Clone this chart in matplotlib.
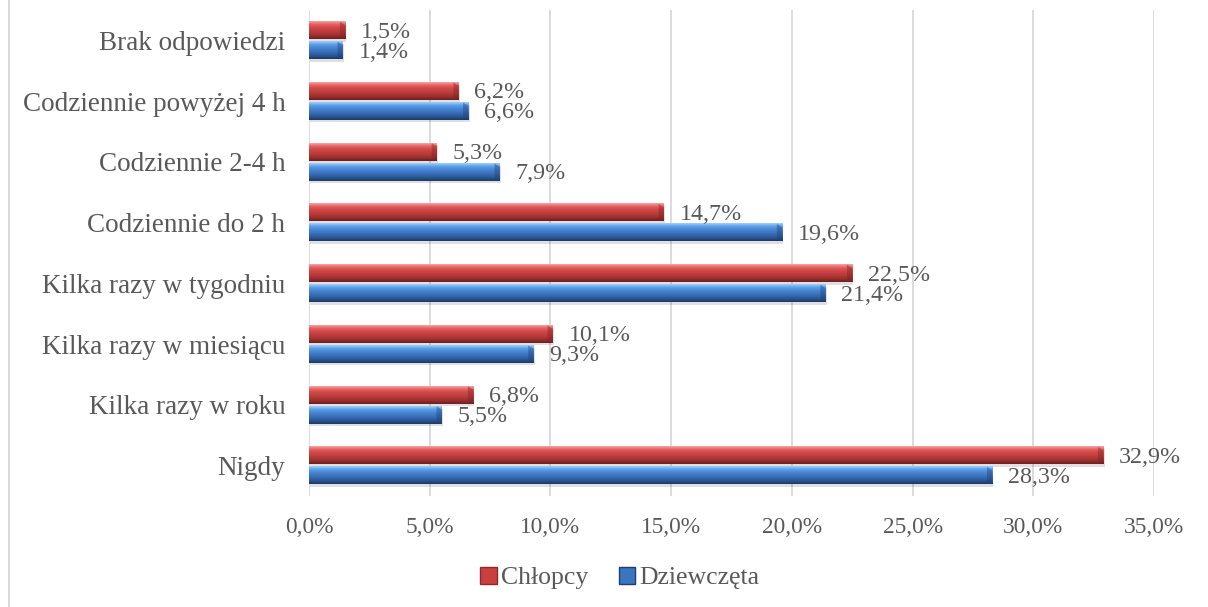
import numpy as np
import matplotlib
matplotlib.use("Agg")
import matplotlib.pyplot as plt
from matplotlib.patches import Patch, Polygon, Rectangle
from matplotlib.lines import Line2D
from matplotlib.colors import to_rgb

# dane
kategorie = ["Nigdy", "Kilka razy w roku", "Kilka razy w miesiącu", "Kilka razy w tygodniu",
             "Codziennie do 2 h", "Codziennie 2-4 h", "Codziennie powyżej 4 h", "Brak odpowiedzi"]
chlopcy = [32.9, 6.8, 10.1, 22.5, 14.7, 5.3, 6.2, 1.5]
dziewczeta = [28.3, 5.5, 9.3, 21.4, 19.6, 7.9, 6.6, 1.4]
ticki = [0, 5, 10, 15, 20, 25, 30, 35]

plt.rcParams['font.family'] = ['Liberation Serif', 'DejaVu Serif']
szary = '#595959'

# gradienty pionowe (od gory do dolu)
grad_red = ['#f6a3a3', '#e86262', '#d24a4a', '#c64040', '#b03838', '#952d2d', '#6e1f1f']
grad_blue = ['#9fd0fb', '#5ea2ea', '#4a88d6', '#3e78c4', '#3468ae', '#29538f', '#1c3a66']


def gradient(kolory, n=40):
    rgb = np.array([to_rgb(c) for c in kolory])
    t = np.linspace(0, 1, n)
    tk = np.linspace(0, 1, len(kolory))
    arr = np.stack([np.interp(t, tk, rgb[:, i]) for i in range(3)], axis=1)
    return arr[:, None, :]


fig = plt.figure(figsize=(12.08, 6.07), dpi=100)
ax = fig.add_axes([0.2558, 0.1829, 0.6995, 0.8006])

h = 0.29
off = 0.165
dx = 0.22
y = np.arange(len(kategorie))

for wartosci, sgn, kol, dark in [(chlopcy, 1, grad_red, '#7a2222'), (dziewczeta, -1, grad_blue, '#1f3f70')]:
    g = gradient(kol)
    for yi, v in zip(y, wartosci):
        yc = yi + sgn * off
        y0, y1 = yc - h / 2, yc + h / 2
        # cien
        ax.add_patch(Rectangle((0.05, y0 - 0.04), v, h, facecolor='#000000', alpha=0.12,
                               edgecolor='none', zorder=2))
        ax.imshow(g, extent=(0, v, y0, y1), aspect='auto', interpolation='bilinear', zorder=3)
        # sfazowany koniec
        ax.add_patch(Polygon([(v - dx, y1), (v, y1 - 0.06), (v, y0), (v - dx, y0 + 0.05)],
                             closed=True, facecolor=dark, alpha=0.4, edgecolor='none', zorder=4))
        ax.text(v + 0.65, yc - 0.03, f"{v:.1f}%".replace('.', ','), ha='left', va='center',
                fontsize=17.3, color=szary, zorder=5)

ax.set_xlim(0, 35)
ax.set_ylim(-0.5, len(kategorie) - 0.5)
ax.set_xticks(ticki)
ax.set_xticklabels([f"{t:.1f}%".replace('.', ',') for t in ticki], fontsize=16.8, color=szary)
ax.set_yticks(y)
ax.set_yticklabels(kategorie, fontsize=19.5, color=szary)
ax.tick_params(axis='both', length=0)
ax.tick_params(axis='x', pad=15)
ax.tick_params(axis='y', pad=17)
ax.grid(axis='x', color='#d9d9d9', linewidth=1.3, zorder=0)
ax.set_axisbelow(True)
for s in ax.spines.values():
    s.set_visible(False)

# ramka z lewej
fig.add_artist(Line2D([9 / 1208, 9 / 1208], [0, 1], color='#d9d9d9', linewidth=1.5))

uchwyty = [Patch(facecolor='#c84040', edgecolor='#8e2a2a', label='Chłopcy'),
           Patch(facecolor='#3b74c0', edgecolor='#1f3f70', label='Dziewczęta')]
fig.legend(handles=uchwyty, loc='center', bbox_to_anchor=(0.513, 0.048), ncol=2, frameon=False,
           fontsize=18.5, handlelength=0.65, handleheight=0.65, handletextpad=0.15,
           columnspacing=1.2, labelcolor=szary)

fig.savefig('out.png', dpi=100)
